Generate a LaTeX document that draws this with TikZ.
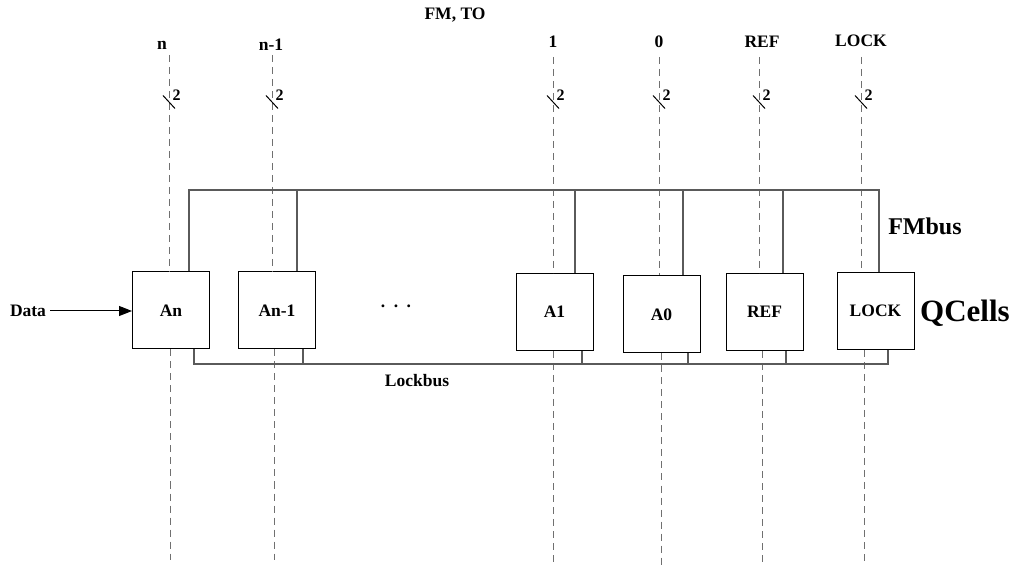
\documentclass[tikz,border=0pt]{standalone}
\usepackage{fontspec}
\setmainfont{Liberation Serif}
\usetikzlibrary{arrows.meta}
\definecolor{busgray}{HTML}{5A5A5A}
\definecolor{siggray}{HTML}{707070}
\tikzset{
  cell/.style={draw=black, line width=1pt, minimum width=77pt, minimum height=77pt, inner sep=0pt, font=\fontsize{17.5}{20}\selectfont\bfseries},
  lbl/.style={inner sep=0pt, font=\fontsize{17.5}{20}\selectfont\bfseries},
  sig/.style={draw=siggray, line width=1pt, dash pattern=on 7pt off 5pt},
  bus/.style={draw=busgray, line width=1.2pt},
  tick/.style={draw=black, line width=1pt},
  wnum/.style={inner sep=0pt, anchor=west, font=\fontsize{16}{18}\selectfont\bfseries},
}
\begin{document}
\begin{tikzpicture}[x=1pt, y=-1pt]
\useasboundingbox (0,0) rectangle (1013,569);
% cells
\node[cell] (An)   at (171,310.5) {An};
\node[cell] (An1)  at (277,310.5) {An-1};
\node[cell] (A1)   at (554.5,312) {A1};
\node[cell] (A0)   at (661.5,314.5) {A0};
\node[cell] (REF)  at (764.5,312) {REF};
\node[cell] (LOCK) at (875.5,311) {LOCK};
% labels
\node[lbl] (fmto) at (455,15) {FM, TO};
\node[lbl] (ln)   at (162,45) {n};
\node[lbl] (ln1)  at (271,45) {n-1};
\node[lbl] (l1)   at (553,42) {1};
\node[lbl] (l0)   at (659,42) {0};
\node[lbl] (lref) at (762,42) {REF};
\node[lbl] (llock) at (861,41) {LOCK};
\node[lbl] (data) at (28,311) {Data};
\node[lbl] (dots) at (396,306) {.\hskip 8.5pt.\hskip 8.5pt.};
\node[lbl] (lockbus) at (417,381) {Lockbus};
\node[inner sep=0pt, font=\fontsize{24}{28}\selectfont\bfseries] (fmbus) at (925,226) {FMbus};
\node[inner sep=0pt, font=\fontsize{31}{36}\selectfont\bfseries] (qcells) at (965,313) {QCells};
% data arrow
\draw[line width=1pt, -{Triangle[length=13pt,width=10pt]}] (data.east) ++(4pt,0) coordinate (ds) -- (An.west |- ds);
% signal lines: top ends and bottom ends
\foreach \nm/\xt/\xb/\yt/\yb in {An/169/170/55/560, An1/272/274/55/560, A1/553/553/57/565, A0/659/661/57/565, REF/759/762/57/565, LOCK/861/864/57/565}{
  \coordinate (t\nm) at (\xt,\yt);
  \coordinate (b\nm) at (\xb,\yb);
  \draw[sig] (t\nm) -- (\nm.north -| t\nm);
  \draw[sig] (\nm.south -| b\nm) -- (b\nm);
  \coordinate (k\nm) at (\xt,102);
  \draw[tick] ([xshift=-6pt,yshift=6.5pt]k\nm) -- ([xshift=6pt,yshift=-6.5pt]k\nm);
  \node[wnum] (w\nm) at ([xshift=3.5pt,yshift=7pt]k\nm) {2};
}
% FM bus
\coordinate (fmL) at (189,190);
\coordinate (fmR) at (879,190);
\draw[bus] (An.north -| fmL) -- (fmL) -- (fmR) -- (LOCK.north -| fmR);
\foreach \nm/\x in {An1/297, A1/575, A0/683, REF/783}{
  \coordinate (f\nm) at (\x,190);
  \draw[bus] (f\nm) -- (\nm.north -| f\nm);
}
% Lock bus
\coordinate (lbL) at (194,364);
\coordinate (lbR) at (888,364);
\draw[bus] (An.south -| lbL) -- (lbL) -- (lbR) -- (LOCK.south -| lbR);
\foreach \nm/\x in {An1/303, A1/582, A0/688, REF/786}{
  \coordinate (g\nm) at (\x,364);
  \draw[bus] (g\nm) -- (\nm.south -| g\nm);
}
\end{tikzpicture}
\end{document}
